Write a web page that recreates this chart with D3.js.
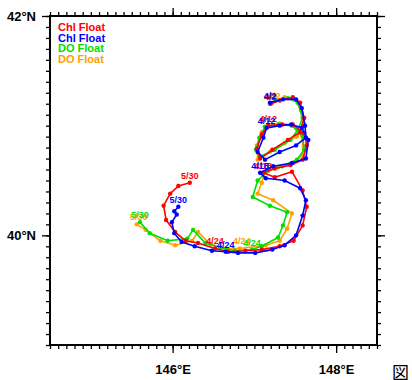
<!DOCTYPE html>
<html><head><meta charset="utf-8">
<script src="https://cdn.jsdelivr.net/npm/d3@7"></script>
<style>
body{margin:0;background:#fff;}
svg{display:block;font-family:"Liberation Sans Narrow","Liberation Sans",Arial,sans-serif;}
</style></head>
<body><svg id="c" width="412" height="380"></svg>
<script>
// ---- data ----
const seriesNames = ["Chl Float","Chl Float","DO Float","DO Float"];
const seriesColors = ["#ff0000","#0000ff","#00e000","#ffa000"];
const redLon = [147.20,147.31,147.47,147.56,147.61,147.56,147.41,147.22,147.07,147.03,147.09,147.17,147.34,147.47,147.61,147.64,147.59,147.44,147.25,147.11,147.25,147.46,147.59,147.64,147.59,147.48,147.31,147.09,146.89,146.68,146.52,146.31,146.16,146.03,145.92,145.89,145.97,146.07,146.21];
const redLat = [41.20,41.23,41.26,41.21,41.07,40.94,40.87,40.78,40.70,40.79,40.92,41.00,41.01,41.01,40.93,40.82,40.69,40.64,40.61,40.57,40.53,40.58,40.41,40.26,40.09,39.95,39.90,39.87,39.86,39.85,39.88,39.93,39.95,40.03,40.14,40.27,40.38,40.45,40.48];
const blueLon = [147.19,147.35,147.51,147.58,147.62,147.63,147.51,147.31,147.13,147.04,147.11,147.15,147.31,147.45,147.58,147.66,147.63,147.46,147.23,147.07,147.14,147.37,147.56,147.63,147.59,147.51,147.37,147.22,147.01,146.80,146.65,146.48,146.27,146.11,146.02,145.99,146.05,146.02,146.07];
const blueLat = [41.21,41.24,41.24,41.16,41.00,40.89,40.82,40.76,40.69,40.76,40.89,40.98,41.00,41.01,40.98,40.87,40.70,40.66,40.63,40.57,40.52,40.50,40.43,40.32,40.18,40.00,39.91,39.87,39.84,39.84,39.85,39.86,39.90,39.94,40.02,40.12,40.19,40.22,40.26];
const greenLon = [147.19,147.26,147.41,147.53,147.59,147.53,147.44,147.25,147.07,147.02,147.06,147.13,147.29,147.46,147.59,147.61,147.52,147.34,147.17,147.04,146.98,147.19,147.40,147.35,147.29,147.09,146.97,146.76,146.58,146.40,146.25,146.18,145.94,145.72,145.60];
const greenLat = [41.20,41.23,41.25,41.21,41.07,40.96,40.87,40.78,40.72,40.78,40.89,40.99,41.01,41.00,40.91,40.78,40.69,40.63,40.59,40.50,40.35,40.27,40.21,40.09,39.98,39.90,39.87,39.86,39.89,39.93,40.05,39.97,39.95,40.02,40.12];
const orangeLon = [147.22,147.37,147.50,147.57,147.59,147.52,147.37,147.19,147.04,147.03,147.09,147.17,147.31,147.47,147.59,147.59,147.47,147.29,147.13,147.09,147.04,147.23,147.46,147.40,147.31,147.14,146.82,146.64,146.46,146.31,146.24,146.03,145.85,145.67,145.56];
const orangeLat = [41.21,41.26,41.24,41.14,41.00,40.90,40.84,40.76,40.69,40.82,40.94,41.00,41.02,41.00,40.89,40.73,40.66,40.62,40.58,40.48,40.38,40.32,40.20,40.06,39.95,39.91,39.88,39.88,39.92,40.03,39.95,39.91,39.95,40.05,40.10];
// date labels: [point index, text]
const redDates = [[0,"4/2"],[11,"4/12"],[19,"4/18"],[30,"4/24"],[38,"5/30"]];
const blueDates = [[0,"4/2"],[11,"4/12"],[19,"4/18"],[30,"4/24"],[38,"5/30"]];
const greenDates = [[0,"4/2"],[26,"4/24"],[34,"5/30"]];
const orangeDates = [[0,"4/2"],[26,"4/24"],[34,"5/30"]];
const lonTicks = [146,148];
const latTicks = [40,42];

// ---- chart ----
const svg = d3.select("#c");
const L=50,R=377,T=16,B=345;
const x = d3.scaleLinear().domain([144.5,148.5]).range([L,R]);
const y = d3.scaleLinear().domain([39,42]).range([B,T]);

const minorLon = d3.range(1445,1486,1).map(d=>d/10);
const minorLat = d3.range(390,421,1).map(d=>d/10);
const lonFmt = d=>d+"°E", latFmt = d=>d+"°N";

function addAxis(gen, tr){
  const g = svg.append("g").attr("transform",tr).call(gen);
  g.select(".domain").remove();
  g.selectAll("line").attr("stroke","#000").attr("stroke-width",1.3);
  return g;
}
addAxis(d3.axisBottom(x).tickValues(minorLon).tickSize(4).tickFormat(""),`translate(0,${B})`);
addAxis(d3.axisTop(x).tickValues(minorLon).tickSize(4).tickFormat(""),`translate(0,${T})`);
addAxis(d3.axisLeft(y).tickValues(minorLat).tickSize(4).tickFormat(""),`translate(${L},0)`);
addAxis(d3.axisRight(y).tickValues(minorLat).tickSize(4).tickFormat(""),`translate(${R},0)`);
const ab = addAxis(d3.axisBottom(x).tickValues(lonTicks).tickSize(8).tickPadding(12).tickFormat(lonFmt),`translate(0,${B})`);
addAxis(d3.axisTop(x).tickValues(lonTicks).tickSize(8).tickFormat(""),`translate(0,${T})`);
const al = addAxis(d3.axisLeft(y).tickValues(latTicks).tickSize(8).tickPadding(6).tickFormat(latFmt),`translate(${L},0)`);
addAxis(d3.axisRight(y).tickValues(latTicks).tickSize(8).tickFormat(""),`translate(${R},0)`);
svg.selectAll("g text").attr("font-family","Liberation Sans Narrow, Liberation Sans, Arial").attr("font-size",13).attr("font-weight","bold").attr("fill","#000");

svg.append("rect").attr("x",L).attr("y",T).attr("width",R-L).attr("height",B-T)
  .attr("fill","none").attr("stroke","#000").attr("stroke-width",2);

const series = [
  {lon:orangeLon,lat:orangeLat,c:seriesColors[3],dates:orangeDates,dx:2},
  {lon:greenLon,lat:greenLat,c:seriesColors[2],dates:greenDates,dx:0},
  {lon:redLon,lat:redLat,c:seriesColors[0],dates:redDates,dx:0},
  {lon:blueLon,lat:blueLat,c:seriesColors[1],dates:blueDates,dx:0}
];
const line = d3.line().x(d=>x(d[0])).y(d=>y(d[1]));
series.forEach(s=>{
  const pts = s.lon.map((v,i)=>[v,s.lat[i]]);
  const g = svg.append("g");
  g.append("path").datum(pts).attr("d",line).attr("fill","none").attr("stroke",s.c).attr("stroke-width",1.6).attr("stroke-linejoin","round");
  g.selectAll("circle").data(pts).join("circle").attr("cx",d=>x(d[0])).attr("cy",d=>y(d[1])).attr("r",2.2).attr("fill",s.c);
  g.selectAll("text").data(s.dates).join("text")
    .attr("x",d=>x(pts[d[0]][0])+s.dx).attr("y",d=>y(pts[d[0]][1])-4)
    .attr("text-anchor","middle").attr("font-size",9).attr("font-weight","bold")
    .attr("fill",s.c).text(d=>d[1]);
});

// legend
const lg = svg.append("g");
seriesNames.forEach((n,i)=>{
  lg.append("text").attr("x",58).attr("y",31+i*10.5).attr("font-size",11).attr("font-weight","bold")
    .attr("fill",seriesColors[i]).text(n);
});
svg.append("text").attr("x",392).attr("y",379).attr("font-size",17).attr("font-family","Noto Sans CJK JP").attr("fill","#000").text("図");
</script></body></html>
